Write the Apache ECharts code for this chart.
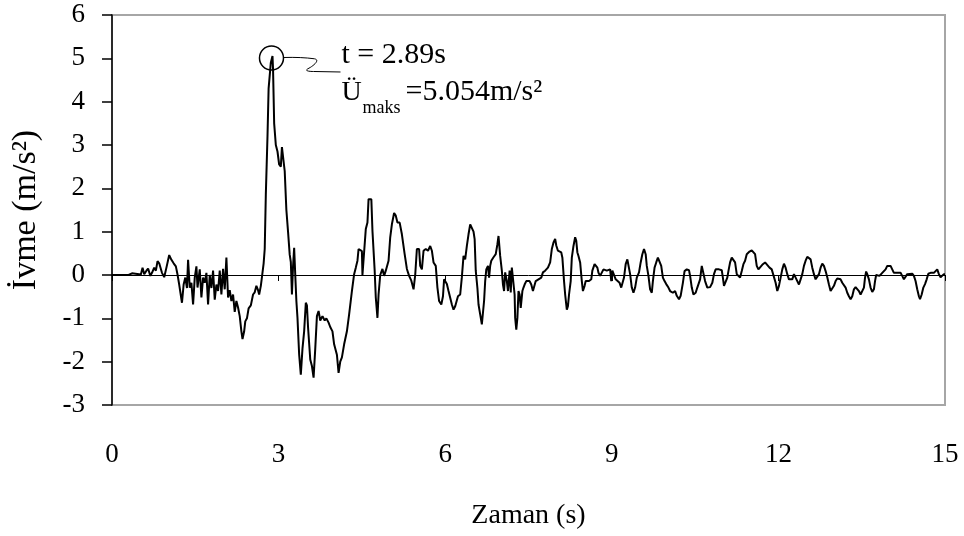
<!DOCTYPE html>
<html><head><meta charset="utf-8">
<script src="https://cdn.jsdelivr.net/npm/echarts@6/dist/echarts.min.js"></script>
<style>html,body{margin:0;padding:0;background:#fff}#c{width:964px;height:536px}</style>
</head><body><div id="c"></div>
<script>
// time (s)
const timeS = [
0,0.30,0.32,0.36,0.38,0.52,0.55,0.58,0.62,0.65,
0.69,0.72,0.76,0.79,0.82,0.85,0.87,0.90,0.94,0.98,
1.03,1.07,1.11,1.15,1.18,1.21,1.26,1.29,1.32,1.35,
1.37,1.40,1.43,1.46,1.49,1.52,1.54,1.58,1.61,1.64,
1.67,1.70,1.73,1.76,1.79,1.82,1.85,1.88,1.91,1.94,
1.97,2.00,2.03,2.06,2.09,2.12,2.15,2.18,2.21,2.24,
2.27,2.30,2.33,2.35,2.38,2.40,2.43,2.46,2.50,2.54,
2.57,2.60,2.63,2.65,2.68,2.70,2.73,2.75,2.77,2.80,
2.82,2.86,2.89,2.90,2.92,2.95,2.98,3.01,3.04,3.06,
3.09,3.11,3.14,3.17,3.20,3.22,3.24,3.26,3.28,3.30,
3.32,3.34,3.37,3.40,3.43,3.46,3.49,3.51,3.53,3.57,
3.60,3.63,3.66,3.69,3.72,3.75,3.79,3.83,3.86,3.90,
3.93,3.97,4.00,4.05,4.08,4.11,4.14,4.18,4.23,4.27,
4.30,4.32,4.36,4.39,4.42,4.44,4.47,4.50,4.51,4.54,
4.57,4.60,4.62,4.67,4.69,4.73,4.75,4.78,4.80,4.83,
4.87,4.90,4.93,4.98,5.01,5.04,5.08,5.11,5.14,5.18,
5.22,5.27,5.31,5.35,5.39,5.43,5.46,5.49,5.53,5.55,
5.58,5.61,5.65,5.69,5.73,5.76,5.79,5.83,5.86,5.89,
5.93,5.96,5.98,6.01,6.03,6.06,6.09,6.12,6.15,6.18,
6.23,6.27,6.30,6.33,6.36,6.39,6.42,6.45,6.48,6.51,
6.53,6.55,6.58,6.60,6.63,6.66,6.68,6.70,6.72,6.74,
6.77,6.79,6.81,6.83,6.87,6.91,6.94,6.96,6.98,6.99,
7.02,7.04,7.06,7.08,7.11,7.13,7.16,7.18,7.20,7.23,
7.25,7.26,7.28,7.30,7.32,7.34,7.36,7.39,7.41,7.43,
7.46,7.49,7.52,7.55,7.58,7.61,7.63,7.68,7.73,7.76,
7.80,7.85,7.89,7.92,7.95,7.98,8.00,8.03,8.06,8.09,
8.11,8.14,8.16,8.19,8.21,8.23,8.26,8.28,8.31,8.34,
8.36,8.38,8.40,8.43,8.46,8.48,8.51,8.53,8.56,8.59,
8.63,8.65,8.69,8.71,8.74,8.76,8.79,8.82,8.85,8.88,
8.91,8.94,8.97,8.99,9.01,9.04,9.07,9.10,9.14,9.17,
9.20,9.22,9.25,9.28,9.31,9.33,9.36,9.39,9.42,9.45,
9.49,9.52,9.55,9.58,9.61,9.63,9.66,9.69,9.72,9.74,
9.77,9.80,9.83,9.86,9.89,9.92,9.95,9.98,10.02,10.05,
10.10,10.14,10.17,10.21,10.24,10.28,10.31,10.35,10.39,10.41,
10.44,10.47,10.51,10.54,10.59,10.62,10.65,10.68,10.72,10.77,
10.81,10.84,10.87,10.93,10.98,11.00,11.02,11.05,11.08,11.10,
11.13,11.16,11.19,11.22,11.25,11.28,11.31,11.34,11.37,11.40,
11.43,11.48,11.52,11.55,11.58,11.61,11.64,11.67,11.72,11.76,
11.79,11.84,11.88,11.91,11.95,11.98,12.01,12.04,12.07,12.10,
12.13,12.16,12.19,12.25,12.28,12.31,12.34,12.37,12.40,12.43,
12.46,12.49,12.52,12.55,12.58,12.61,12.64,12.67,12.70,12.73,
12.76,12.79,12.82,12.85,12.88,12.91,12.94,12.97,13.00,13.03,
13.06,13.09,13.12,13.15,13.18,13.21,13.24,13.27,13.30,13.33,
13.36,13.39,13.42,13.45,13.48,13.51,13.54,13.56,13.58,13.60,
13.63,13.66,13.69,13.72,13.74,13.76,13.79,13.82,13.84,13.87,
13.90,13.93,13.96,13.99,14.02,14.05,14.08,14.14,14.20,14.23,
14.26,14.29,14.32,14.35,14.41,14.44,14.47,14.50,14.53,14.55,
14.58,14.61,14.64,14.67,14.70,14.74,14.80,14.83,14.86,14.89,
14.92,14.95,14.98,15.00
];
// acceleration (m/s²)
const accel = [
0,0,0.04,0.04,0.01,0.01,0.17,0.02,0.10,0.15,
-0.02,0.05,0.17,0.10,0.32,0.27,0.30,0.05,-0.05,0.17,
0.46,0.35,0.27,0.20,0.01,-0.22,-0.64,-0.22,-0.06,-0.30,
0.35,-0.29,-0.18,-0.68,-0.06,0.20,-0.29,0.13,-0.52,-0.06,
-0.18,0.05,-0.68,0.00,-0.30,0.10,-0.57,-0.22,-0.37,0.10,
-0.45,0.14,-0.33,0.40,-0.52,-0.35,-0.60,-0.45,-0.85,-0.60,
-0.75,-0.95,-1.30,-1.48,-1.30,-1.07,-1.00,-0.77,-0.70,-0.45,
-0.40,-0.25,-0.35,-0.45,-0.25,-0.05,0.26,0.60,1.86,3.20,
4.30,4.90,5.054,4.75,3.50,3.00,2.85,2.55,2.50,2.95,
2.95,2.40,1.50,1.00,0.47,0.30,-0.45,0.20,0.63,0.00,
-0.60,-0.99,-1.83,-2.30,-1.70,-1.30,-0.64,-0.70,-1.20,-1.95,
-2.10,-2.37,-1.70,-0.95,-0.83,-1.05,-0.95,-1.05,-1.00,-1.10,
-1.20,-1.30,-1.60,-1.84,-2.26,-2.00,-1.90,-1.60,-1.30,-0.91,
-0.91,-0.37,0.02,0.17,0.33,0.60,0.63,0.55,0.00,0.00,
1.06,1.21,1.75,1.75,1.02,0.10,-0.52,-0.99,-0.45,0.00,
0.14,-0.02,0.10,0.33,0.87,1.17,1.43,1.37,1.21,1.21,
0.94,0.48,0.14,-0.02,-0.13,-0.33,0.00,0.60,0.60,0.21,
0.13,0.56,0.60,0.56,0.67,0.56,0.29,0.21,-0.29,-0.60,
-0.68,-0.49,-0.10,-0.10,-0.21,-0.37,-0.41,-0.68,-0.80,-0.72,
-0.49,-0.45,-0.05,0.44,0.36,0.67,0.94,1.17,1.21,1.00,
0.83,0.10,-0.30,-0.68,-0.91,-1.14,-1.18,-0.60,-0.14,0.13,
0.21,-0.06,0.21,0.33,0.41,0.48,0.71,0.90,0.86,0.44,
0.10,-0.22,-0.37,0.06,-0.14,-0.37,0.10,-0.40,0.17,0.21,
-0.45,-0.99,-1.26,-0.99,-0.37,-0.45,-0.76,-0.37,-0.29,-0.22,
-0.14,-0.10,-0.14,-0.22,-0.37,-0.41,-0.14,-0.10,-0.06,0.06,
0.10,0.17,0.29,0.60,0.75,0.83,0.68,0.56,0.60,0.52,
0.40,-0.14,-0.45,-0.80,-0.72,-0.45,-0.14,0.40,0.67,0.87,
0.79,0.52,0.44,0.29,-0.14,-0.37,-0.25,-0.14,-0.10,-0.14,
-0.10,0.10,0.25,0.29,0.17,0.05,-0.02,-0.02,0.13,0.13,
0.10,0.13,0.13,-0.14,0.10,0.13,-0.10,-0.14,-0.18,-0.29,
-0.30,-0.06,0.25,0.36,0.33,0.02,-0.29,-0.41,-0.29,-0.06,
0.06,0.29,0.48,0.60,0.48,0.21,-0.02,-0.33,-0.41,-0.14,
0.17,0.29,0.40,0.36,0.21,-0.06,-0.14,-0.21,-0.29,-0.37,
-0.41,-0.37,-0.48,-0.56,-0.48,-0.18,0.09,0.13,0.11,-0.02,
-0.29,-0.45,-0.41,-0.29,-0.10,0.21,0.17,-0.14,-0.29,-0.28,
-0.18,0.02,0.13,0.13,0.11,-0.06,-0.25,-0.21,-0.06,0.09,
0.29,0.40,0.36,0.29,0.02,-0.02,-0.06,0.09,0.25,0.33,
0.48,0.54,0.57,0.60,0.48,0.21,0.13,0.17,0.25,0.29,
0.25,0.17,0.13,0.09,-0.18,-0.37,-0.25,-0.06,0.13,0.26,
0.17,0.02,-0.10,-0.10,0.02,-0.02,-0.14,-0.22,-0.10,0.02,
0.21,0.33,0.42,0.44,0.36,0.17,0.02,-0.10,-0.06,0.02,
0.17,0.26,0.21,0.09,-0.05,-0.22,-0.37,-0.41,-0.25,-0.14,
-0.08,-0.08,-0.10,-0.18,-0.22,-0.29,-0.41,-0.49,-0.56,-0.49,
-0.33,-0.28,-0.29,-0.37,-0.45,-0.45,-0.29,-0.06,0.08,0.02,
-0.10,-0.29,-0.39,-0.33,-0.14,0.00,0.02,-0.02,0.02,0.05,
0.05,0.13,0.21,0.25,0.21,0.13,0.05,0.05,0.05,-0.02,
-0.10,-0.06,0.02,0.03,0.03,-0.02,-0.14,-0.33,-0.49,-0.56,
-0.45,-0.29,-0.21,-0.10,0.03,0.05,0.05,0.08,0.13,0.02,
-0.05,-0.06,0.02,0.02
];
const xRange = [0, 15];      // x axis min / max
const xStep = 3;
const yRange = [-3, 6];      // y axis min / max
const yStep = 1;
const peakT = 2.89;
const peakA = 5.054;
const annoLine1 = 't = 2.89s';
const annoSym = 'Ü';
const annoSub = 'maks';
const annoLine2 = '=5.054m/s²';

if (timeS.length !== accel.length) console.error('length mismatch', timeS.length, accel.length);

const FONT = "'Liberation Serif', 'Times New Roman', serif";
const chart = echarts.init(document.getElementById('c'), null, {renderer: 'canvas'});
const data = timeS.map((t, i) => [t, accel[i]]);

chart.setOption({
  animation: false,
  backgroundColor: '#fff',
  grid: {left: 112, right: 19, top: 15, bottom: 131, show: true, borderColor: '#a6a6a6', borderWidth: 2, backgroundColor: 'transparent'},
  xAxis: [{
    type: 'value', min: xRange[0], max: xRange[1], interval: xStep, position: 'bottom',
    axisLine: {show: false, onZero: false}, axisTick: {show: false}, splitLine: {show: false},
    axisLabel: {fontFamily: FONT, fontSize: 27, color: '#000', margin: 36},
    name: 'Zaman (s)', nameLocation: 'middle', nameGap: 97,
    nameTextStyle: {fontFamily: FONT, fontSize: 28, color: '#000'}
  }, {
    type: 'value', min: xRange[0], max: xRange[1], interval: xStep, position: 'bottom',
    axisLine: {show: true, onZero: true, lineStyle: {color: '#000', width: 1}},
    axisTick: {show: true, length: 6, lineStyle: {color: '#000', width: 1}},
    axisLabel: {show: false}, splitLine: {show: false}
  }],
  yAxis: {
    type: 'value', min: yRange[0], max: yRange[1], interval: yStep,
    axisLine: {show: true, lineStyle: {color: '#000', width: 1.5}},
    axisTick: {show: true, length: 10, lineStyle: {color: '#000', width: 1.5}},
    splitLine: {show: false},
    axisLabel: {fontFamily: FONT, fontSize: 27, color: '#000', margin: 27},
    name: 'İvme (m/s²)', nameLocation: 'middle', nameGap: 69,
    nameTextStyle: {fontFamily: FONT, fontSize: 34, color: '#000'}
  },
  series: [{
    type: 'line', xAxisIndex: 0, data: data, showSymbol: false, symbol: 'none',
    lineStyle: {color: '#000', width: 2}, z: 3
  }]
});

const p = chart.convertToPixel({xAxisIndex: 0, yAxisIndex: 0}, [peakT, peakA]);
const cx = p[0] - 1, cy = p[1] + 2;
const ln = {fill: 'none', stroke: '#000', lineWidth: 1};
chart.setOption({
  graphic: [
    {type: 'circle', shape: {cx: cx, cy: cy, r: 12}, style: {fill: 'none', stroke: '#000', lineWidth: 1.5}, z: 10},
    {type: 'bezierCurve', x: cx, y: cy, shape: {x1: 12, y1: -0.5, cpx1: 30, cpy1: -1, x2: 43, y2: 0.8}, style: ln, z: 10},
    {type: 'bezierCurve', x: cx, y: cy, shape: {x1: 43, y1: 0.8, cpx1: 49, cpy1: 2, cpx2: 42, cpy2: 8, x2: 36, y2: 11}, style: ln, z: 10},
    {type: 'bezierCurve', x: cx, y: cy, shape: {x1: 36, y1: 11, cpx1: 33, cpy1: 13, cpx2: 38, cpy2: 13.5, x2: 42, y2: 13.5}, style: ln, z: 10},
    {type: 'line', x: cx, y: cy, shape: {x1: 42, y1: 13.5, x2: 69, y2: 14}, style: ln, z: 10},
    {type: 'text', x: cx + 70, y: cy - 2.5, style: {text: annoLine1, font: '30px ' + FONT, fill: '#000', textVerticalAlign: 'middle'}, z: 10},
    {type: 'text', x: cx + 70, y: cy + 35, style: {text: annoSym, font: '28px ' + FONT, fill: '#000', textVerticalAlign: 'middle'}, z: 10},
    {type: 'text', x: cx + 91, y: cy + 50, style: {text: annoSub, font: '18px ' + FONT, fill: '#000', textVerticalAlign: 'middle'}, z: 10},
    {type: 'text', x: cx + 134, y: cy + 34, style: {text: annoLine2, font: '30px ' + FONT, fill: '#000', textVerticalAlign: 'middle'}, z: 10}
  ]
});
</script>
</body></html>
